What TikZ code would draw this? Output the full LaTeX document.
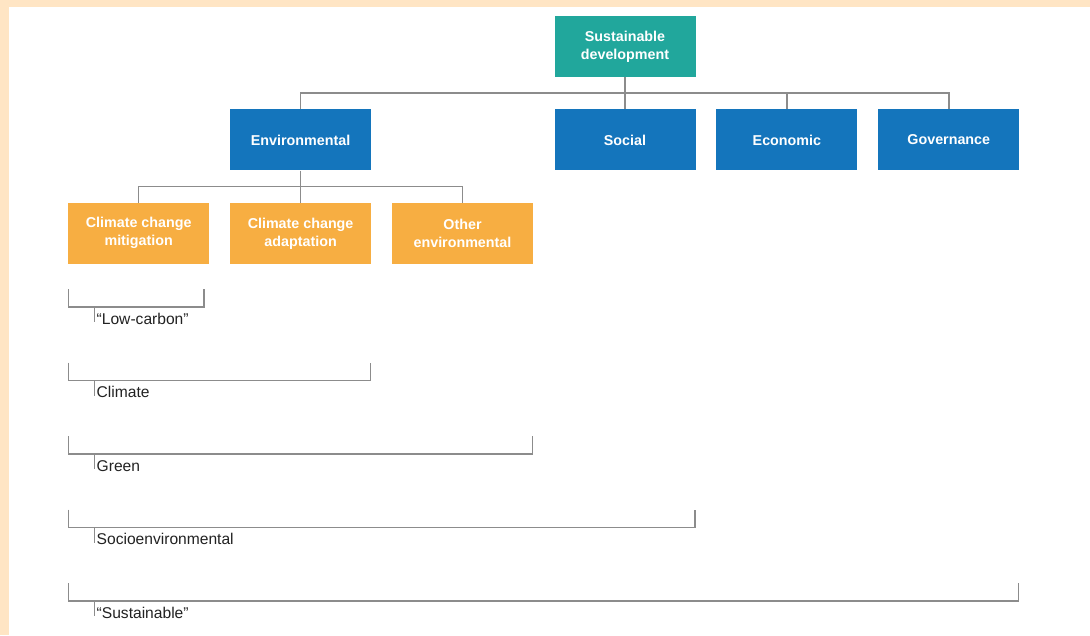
\documentclass[tikz,border=0pt]{standalone}
\usepackage{fontspec}
\setmainfont{Liberation Sans}
\usepackage{tikz}
\usetikzlibrary{positioning,calc}
\definecolor{peach}{RGB}{255,229,196}
\definecolor{sdteal}{RGB}{33,167,156}
\definecolor{pillarblue}{RGB}{20,117,188}
\definecolor{themeorange}{RGB}{247,174,66}
\definecolor{linegray}{RGB}{140,140,140}
\definecolor{tagtext}{RGB}{34,34,34}
\tikzstyle{block}=[minimum width=141pt, minimum height=61pt, inner sep=0pt,
  align=center, text=white, font=\bfseries\fontsize{14.3}{18}\selectfont]
\tikzstyle{sdblock}=[block, fill=sdteal]
\tikzstyle{pillar}=[block, fill=pillarblue]
\tikzstyle{theme}=[block, fill=themeorange]
\tikzstyle{line}=[draw=linegray, line width=1.5pt]
\tikzstyle{tag}=[inner sep=0pt, text=tagtext, font=\fontsize{15.6}{18}\selectfont]
\begin{document}
\begin{tikzpicture}[x=1pt,y=1pt,node distance=20.5pt]
\useasboundingbox (0,0) rectangle (1090,-635);
\fill[peach] (0,0) rectangle (1090,-635);
\fill[white] (9,-7) rectangle (1090,-635);

\node (sd) [sdblock] at (625,-46.5) {Sustainable\\development};
\node (soc) [pillar, below=32pt of sd] {Social};
\node (eco) [pillar, right=of soc] {Economic};
\node (gov) [pillar, right=of eco] {Governance};
\node (env) [pillar, left=183pt of soc] {Environmental};
\node (cca) [theme, below=32pt of env] {Climate change\\adaptation};
\node (ccm) [theme, left=of cca] {Climate change\\mitigation};
\node (oth) [theme, right=of cca] {Other\\environmental};

\coordinate (j1) at ($(sd.south)!0.5!(soc.north)$);
\draw[line] (sd.south) -- (soc.north);
\draw[line] (env.north) |- (j1) -| (gov.north);
\draw[line] (eco.north) -- (eco.north|-j1);

\coordinate (j2) at ($(env.south)!0.5!(cca.north)$);
\draw[line] (env.south) -- (cca.north);
\draw[line] (ccm.north) |- (j2) -| (oth.north);

\foreach \lab/\xr [count=\i from 0] in {“Low-carbon”/204, Climate/370.5,
  Green/532.5, Socioenvironmental/695, “Sustainable”/1018.5}{
  \pgfmathsetmacro{\yb}{-307-73.5*\i}
  \draw[line] (68.5,\yb+18) -- (68.5,\yb) -- (\xr,\yb) -- (\xr,\yb+18);
  \node (lab\i) [tag, anchor=base west] at (96.5,\yb-17) {\lab};
  \draw[line, line width=1pt] (94,\yb) -- (94,\yb-15);
}
\end{tikzpicture}
\end{document}
